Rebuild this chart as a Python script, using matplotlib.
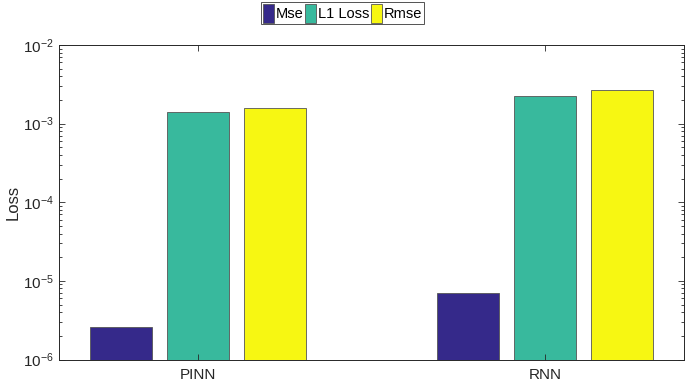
import numpy as np
import matplotlib
matplotlib.use("Agg")
import matplotlib.pyplot as plt
from matplotlib.ticker import LogLocator

plt.rcParams['font.family'] = ['Liberation Sans', 'DejaVu Sans']
plt.rcParams['mathtext.default'] = 'regular'

groups = ["PINN", "RNN"]
series = ["Mse", "L1 Loss", "Rmse"]
mse = [2.6e-6, 7.1e-6]
l1_loss = [1.41e-3, 2.24e-3]
rmse = [1.58e-3, 2.69e-3]
colors = ["#35298A", "#38B99D", "#F7F712"]

fig = plt.figure(figsize=(6.85, 3.84), dpi=100)
ax = fig.add_axes([0.0861, 0.0638, 0.9124, 0.819])

x = np.arange(1, len(groups) + 1)
width = 0.179
offset = 0.222
for i, (vals, name) in enumerate(zip([mse, l1_loss, rmse], series)):
    ax.bar(x + (i - 1) * offset, vals, width, color=colors[i],
           edgecolor="#555555", linewidth=0.6, label=name)

ax.set_yscale("log")
ax.set_ylim(1e-6, 1e-2)
ax.set_xlim(0.6, 2.4)
ax.set_xticks(x)
ax.set_xticklabels(groups)
ax.yaxis.set_major_locator(LogLocator(base=10, numticks=10))
ax.yaxis.set_minor_locator(LogLocator(base=10, subs=np.arange(2, 10), numticks=10))
ax.tick_params(axis="both", which="both", direction="in", top=True, right=True,
               labelsize=11, colors="#262626", width=0.6)
ax.tick_params(which="major", length=4)
ax.tick_params(which="minor", length=2)
ax.tick_params(axis="x", pad=6)
ax.set_ylabel("Loss", fontsize=12, color="#262626", labelpad=2)
for s in ax.spines.values():
    s.set_color("#262626")
    s.set_linewidth(0.7)

leg = fig.legend(loc="upper center", bbox_to_anchor=(0.5, 1.0), ncol=3,
                 fontsize=10.5, frameon=True, fancybox=False, edgecolor="#262626",
                 handlelength=0.75, handleheight=1.6, handletextpad=0.1,
                 columnspacing=0.15, borderpad=0.12, borderaxespad=0.15)
leg.get_frame().set_linewidth(0.7)

fig.savefig("out.png", dpi=100)
